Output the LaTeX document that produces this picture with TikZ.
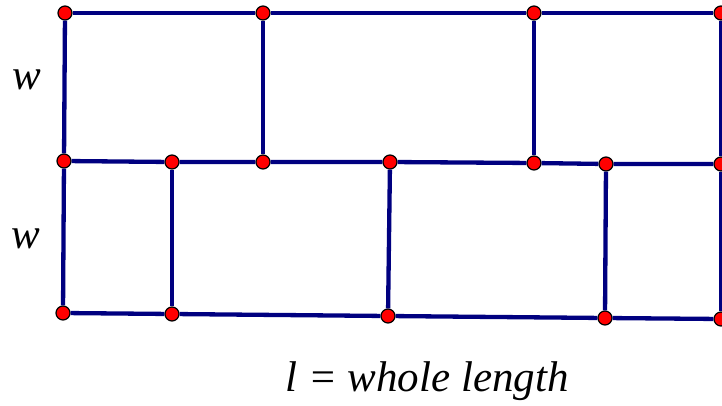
\documentclass[tikz,border=0pt]{standalone}
\usepackage{fontspec}
\setmainfont{Liberation Serif}
\usepackage{tikz}
\definecolor{navyline}{RGB}{0,0,128}

\begin{document}
\begin{tikzpicture}[x=1pt, y=-1pt]
\tikzstyle{pt} = [circle, fill=red, draw=black, line width=1.2pt, minimum size=14pt, inner sep=0pt]
\tikzstyle{edge} = [draw=navyline, line width=4.3pt]
\tikzstyle{lbl} = [font=\fontsize{43}{48}\selectfont\itshape]
\useasboundingbox (0,0) rectangle (722,406);

% top row
\node (t1) [pt] at (65,13) {};
\node (t2) [pt] at (263,13) {};
\node (t3) [pt] at (534,13) {};
\node (t4) [pt] at (721,13) {};
% middle row
\node (m1) [pt] at (64,161) {};
\node (m2) [pt] at (172,162) {};
\node (m3) [pt] at (263,162) {};
\node (m4) [pt] at (390,162) {};
\node (m5) [pt] at (534,163) {};
\node (m6) [pt] at (606,164) {};
\node (m7) [pt] at (721,164) {};
% bottom row
\node (b1) [pt] at (63,313) {};
\node (b2) [pt] at (172,314) {};
\node (b3) [pt] at (388,316) {};
\node (b4) [pt] at (605,318) {};
\node (b5) [pt] at (721,319) {};

\draw [edge] (t1) -- (t2) -- (t3) -- (t4);
\draw [edge] (m1) -- (m2) -- (m3) -- (m4) -- (m5) -- (m6) -- (m7);
\draw [edge] (b1) -- (b2) -- (b3) -- (b4) -- (b5);
\draw [edge] (t1) -- (m1) -- (b1);
\draw [edge] (t4) -- (m7) -- (b5);
\draw [edge] (t2) -- (m3);
\draw [edge] (t3) -- (m5);
\draw [edge] (m2) -- (b2);
\draw [edge] (m4) -- (b3);
\draw [edge] (m6) -- (b4);

\node (w1) [lbl] at (27,80) {w};
\node (w2) [lbl] at (26,239) {w};
\node (len) [lbl] at (427,381) {l = whole length};

\end{tikzpicture}
\end{document}
